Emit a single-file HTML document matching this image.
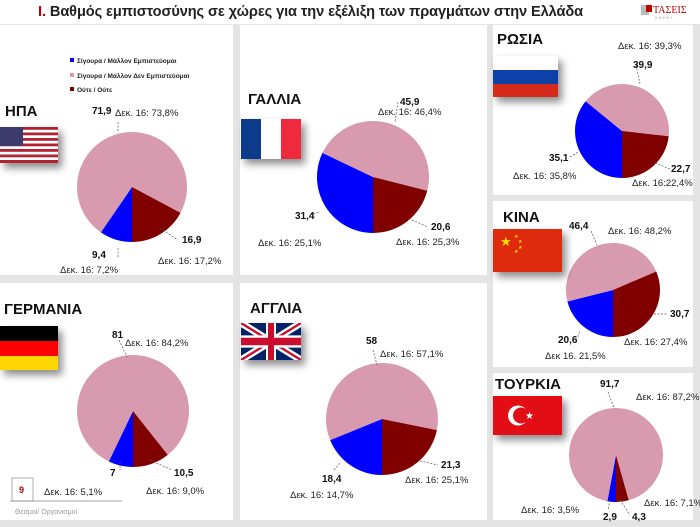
<!DOCTYPE html>
<html><head><meta charset="utf-8"><style>
body{margin:0;background:#fff;}
svg{display:block;font-family:"Liberation Sans","DejaVu Sans",sans-serif;}
.c{font-weight:bold;font-size:15px;fill:#111;}
.v{font-weight:bold;font-size:10px;fill:#111;}
.d{font-size:9.5px;fill:#222;}
.lg{font-size:6.5px;font-weight:bold;fill:#222;}
</style></head><body>
<svg id="s" width="700" height="527" viewBox="0 0 700 527" xmlns="http://www.w3.org/2000/svg">
<defs><filter id="sh" x="-30%" y="-30%" width="170%" height="180%"><feDropShadow dx="4" dy="5" stdDeviation="4" flood-color="#000" flood-opacity="0.45"/></filter></defs>
<rect width="700" height="527" fill="#e4e4e4"/>
<rect x="0" y="0" width="700" height="24" fill="#fff"/>
<rect x="0" y="25" width="233" height="250" fill="#fff"/>
<rect x="240" y="25" width="247" height="250" fill="#fff"/>
<rect x="493" y="25" width="200" height="170" fill="#fff"/>
<rect x="493" y="201" width="200" height="166" fill="#fff"/>
<rect x="0" y="283" width="233" height="237" fill="#fff"/>
<rect x="240" y="283" width="247" height="237" fill="#fff"/>
<rect x="493" y="373" width="200" height="147" fill="#fff"/>
<text x="38" y="16" font-size="14.6" font-weight="bold" fill="#222" letter-spacing="-0.1"><tspan fill="#c00000">Ι.</tspan> Βαθμός εμπιστοσύνης σε χώρες για την εξέλιξη των πραγμάτων στην Ελλάδα</text>
<rect x="641" y="5" width="8" height="10" fill="#bbb"/><rect x="646" y="5" width="6" height="7" fill="#c00000"/>
<text x="653" y="13" font-size="10" fill="#c00000" font-family="Liberation Serif">ΤΑΣΕΙΣ</text>
<text x="655" y="19" font-size="4" fill="#999">Σ Κ Ε Ψ Γ</text>
<g id="pies"></g>
<rect x="70" y="58" width="4" height="4" fill="#0000ff"/><text class="lg" x="77" y="63">Σίγουρα / Μάλλον Εμπιστεύομαι</text>
<rect x="70" y="73" width="4" height="4" fill="#d89aae"/><text class="lg" x="77" y="78">Σίγουρα / Μάλλον Δεν Εμπιστεύομαι</text>
<rect x="70" y="87" width="4" height="4" fill="#800000"/><text class="lg" x="77" y="92">Ούτε / Ούτε</text>
<g filter="url(#sh)">
<rect x="0" y="127" width="58" height="36" fill="#fff"/>
<g fill="#b22234"><rect x="0" y="127" width="58" height="2.8"/><rect x="0" y="132.5" width="58" height="2.8"/><rect x="0" y="138" width="58" height="2.8"/><rect x="0" y="143.5" width="58" height="2.8"/><rect x="0" y="149" width="58" height="2.8"/><rect x="0" y="154.5" width="58" height="2.8"/><rect x="0" y="160" width="58" height="3"/></g>
<rect x="0" y="127" width="23" height="19" fill="#3c3b6e"/>
</g>
<g filter="url(#sh)"><rect x="241" y="119" width="20" height="40" fill="#0a3a8c"/><rect x="261" y="119" width="20" height="40" fill="#fff"/><rect x="281" y="119" width="20" height="40" fill="#ef2b3c"/></g>
<g filter="url(#sh)"><rect x="493" y="56" width="65" height="14" fill="#fff"/><rect x="493" y="70" width="65" height="14" fill="#0b3fa8"/><rect x="493" y="84" width="65" height="13" fill="#d52b1e"/></g>
<g filter="url(#sh)"><rect x="493" y="229" width="69" height="43" fill="#de2910"/><text x="500" y="246" font-size="13" fill="#ffde00">★</text><text x="514" y="238" font-size="5" fill="#ffde00">★</text><text x="518" y="243" font-size="5" fill="#ffde00">★</text><text x="518" y="249" font-size="5" fill="#ffde00">★</text><text x="514" y="253" font-size="5" fill="#ffde00">★</text></g>
<g filter="url(#sh)"><rect x="0" y="326" width="58" height="15" fill="#000"/><rect x="0" y="341" width="58" height="15" fill="#f00"/><rect x="0" y="356" width="58" height="14" fill="#ffd700"/></g>
<g filter="url(#sh)"><svg x="241" y="323" width="60" height="37" viewBox="0 0 60 30" preserveAspectRatio="none"><rect width="60" height="30" fill="#012169"/><path d="M0,0 L60,30 M60,0 L0,30" stroke="#fff" stroke-width="6"/><path d="M0,0 L60,30 M60,0 L0,30" stroke="#c8102e" stroke-width="2"/><path d="M30,0 V30 M0,15 H60" stroke="#fff" stroke-width="10"/><path d="M30,0 V30 M0,15 H60" stroke="#c8102e" stroke-width="6"/></svg></g>
<g filter="url(#sh)"><rect x="493" y="396" width="69" height="39" fill="#e30a17"/><circle cx="518" cy="415.5" r="10" fill="#fff"/><circle cx="521" cy="415.5" r="8" fill="#e30a17"/><text x="525" y="419" font-size="10" fill="#fff">★</text></g>
<text class="c" x="5" y="116">ΗΠΑ</text>
<text class="c" x="248" y="104">ΓΑΛΛΙΑ</text>
<text class="c" x="497" y="44">ΡΩΣΙΑ</text>
<text class="c" x="503" y="222">ΚΙΝΑ</text>
<text class="c" x="4" y="314">ΓΕΡΜΑΝΙΑ</text>
<text class="c" x="250" y="313">ΑΓΓΛΙΑ</text>
<text class="c" x="495" y="389">ΤΟΥΡΚΙΑ</text>
<g stroke="#555" stroke-width="0.7" stroke-dasharray="2,1.5" fill="none">
<path d="M118,122 V133"/><path d="M160,228 L178,240"/><path d="M118,248 V258"/>
<path d="M398,102 L395,122"/><path d="M310,215 L320,212"/><path d="M412,220 L428,227"/>
<path d="M636,65 L640,84"/><path d="M570,157 L578,152"/><path d="M655,163 L670,169"/>
<path d="M591,231 L597,245"/><path d="M654,314 L668,314"/><path d="M578,337 L580,330"/>
<path d="M119,340 L127,357"/><path d="M120,462 V470"/><path d="M150,460 L172,470"/>
<path d="M373,350 L377,365"/><path d="M334,470 L340,463"/><path d="M420,461 L438,465"/>
<path d="M608,392 L614,408"/><path d="M610,500 L608,510"/><path d="M620,500 L630,515"/>
</g>
<text class="v" x="92" y="114">71,9</text><text class="d" x="115" y="116">Δεκ. 16: 73,8%</text>
<text class="v" x="182" y="243">16,9</text><text class="d" x="158" y="264">Δεκ. 16: 17,2%</text>
<text class="v" x="92" y="258">9,4</text><text class="d" x="60" y="273">Δεκ. 16: 7,2%</text>
<text class="v" x="400" y="105">45,9</text><text class="d" x="378" y="115">Δεκ. 16: 46,4%</text>
<text class="v" x="295" y="219">31,4</text><text class="d" x="258" y="246">Δεκ. 16: 25,1%</text>
<text class="v" x="431" y="230">20,6</text><text class="d" x="396" y="245">Δεκ. 16: 25,3%</text>
<text class="d" x="618" y="49">Δεκ. 16: 39,3%</text><text class="v" x="633" y="68">39,9</text>
<text class="v" x="549" y="161">35,1</text><text class="d" x="513" y="179">Δεκ. 16: 35,8%</text>
<text class="v" x="671" y="172">22,7</text><text class="d" x="632" y="186">Δεκ. 16:22,4%</text>
<text class="v" x="569" y="229">46,4</text><text class="d" x="608" y="234">Δεκ. 16: 48,2%</text>
<text class="v" x="670" y="317">30,7</text><text class="v" x="558" y="343">20,6</text>
<text class="d" x="624" y="345">Δεκ. 16: 27,4%</text><text class="d" x="545" y="359">Δεκ 16. 21,5%</text>
<text class="v" x="112" y="338" font-size="12">81</text><text class="d" x="125" y="346">Δεκ. 16: 84,2%</text>
<text class="v" x="110" y="476">7</text><text class="v" x="174" y="476">10,5</text>
<text class="d" x="146" y="494">Δεκ. 16: 9,0%</text>
<rect x="12" y="478" width="21" height="23" fill="#fff" stroke="#999" stroke-width="0.8"/>
<text x="19" y="493" font-size="9" fill="#a00" font-weight="bold">9</text>
<text class="d" x="44" y="495">Δεκ. 16: 5,1%</text>
<path d="M10,501 H122" stroke="#888" stroke-width="0.8"/>
<text x="15" y="514" font-size="7" fill="#999">Θεσμοί/ Οργανισμοί</text>
<text class="v" x="366" y="344" font-size="11">58</text><text class="d" x="380" y="357">Δεκ. 16: 57,1%</text>
<text class="v" x="322" y="482">18,4</text><text class="d" x="290" y="498">Δεκ. 16: 14,7%</text>
<text class="v" x="441" y="468">21,3</text><text class="d" x="405" y="483">Δεκ. 16: 25,1%</text>
<text class="v" x="600" y="387" font-size="9">91,7</text><text class="d" x="636" y="400">Δεκ. 16: 87,2%</text>
<text class="d" x="521" y="513">Δεκ. 16: 3,5%</text>
<text class="v" x="603" y="520" font-size="9">2,9</text><text class="v" x="632" y="520" font-size="9">4,3</text>
<text class="d" x="644" y="506" font-size="8">Δεκ. 16: 7,1%</text>
</svg>
<script>
var pies=[[132,187,55,[9.4,71.9,16.9]],[373,177,56,[31.4,45.9,20.6]],[622,131,47,[35.1,39.9,22.7]],[613,290,47,[20.6,46.4,30.7]],[133,411,56,[7,81,10.5]],[382,419,56,[18.4,58,21.3]],[616,455,47,[2.9,91.7,4.3]]];
var cols=["#0000ff","#d89aae","#800000"],h="";
pies.forEach(function(p){var cx=p[0],cy=p[1],r=p[2],v=p[3],t=v[0]+v[1]+v[2],a=Math.PI;
v.forEach(function(x,i){var b=a+x/t*2*Math.PI;
var x1=cx+r*Math.sin(a),y1=cy-r*Math.cos(a),x2=cx+r*Math.sin(b),y2=cy-r*Math.cos(b);
h+='<path d="M'+cx+','+cy+' L'+x1+','+y1+' A'+r+','+r+' 0 '+((b-a)>Math.PI?1:0)+' 1 '+x2+','+y2+' Z" fill="'+cols[i]+'"/>';a=b;});});
document.getElementById("pies").innerHTML=h;
</script>
</body></html>
